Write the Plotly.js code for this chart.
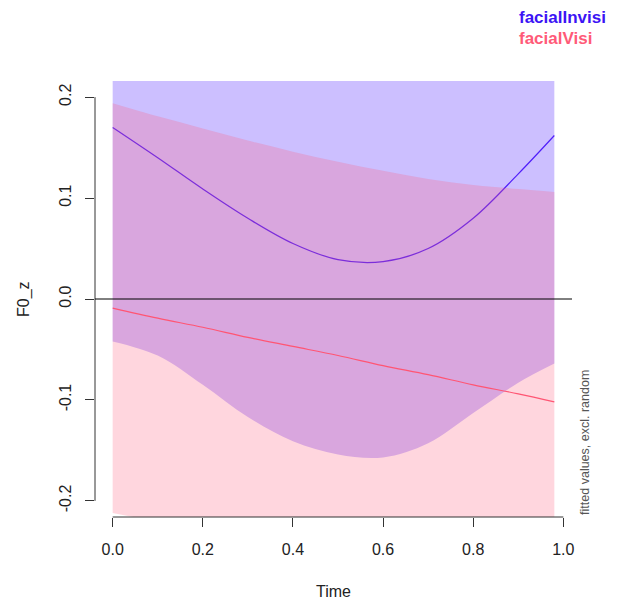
<!DOCTYPE html>
<html>
<head>
<meta charset="utf-8">
<script src="https://cdn.plot.ly/plotly-3.0.1.min.js"></script>
<style>html,body{margin:0;padding:0;background:#fff;}#chart{width:618px;height:601px;}</style>
</head>
<body>
<div id="chart"></div>
<script>
// Time grid
var time = [0, 0.1, 0.2, 0.3, 0.4, 0.5, 0.6, 0.7, 0.8, 0.9, 0.98];
// facialInvisi: fit and CI
var invisiFit   = [0.170, 0.140, 0.109, 0.080, 0.055, 0.039, 0.037, 0.050, 0.080, 0.124, 0.162];
var invisiLower = [-0.042, -0.056, -0.085, -0.117, -0.141, -0.154, -0.157, -0.143, -0.113, -0.083, -0.064];
var invisiUpper = [0.382, 0.336, 0.303, 0.277, 0.251, 0.232, 0.231, 0.243, 0.273, 0.331, 0.388];
// facialVisi: fit and CI
var visiFit   = [-0.009, -0.019, -0.028, -0.038, -0.047, -0.056, -0.066, -0.075, -0.085, -0.094, -0.102];
var visiUpper = [0.194, 0.181, 0.169, 0.157, 0.146, 0.136, 0.127, 0.119, 0.113, 0.109, 0.106];
var visiLower = [-0.212, -0.220, -0.224, -0.233, -0.240, -0.247, -0.257, -0.268, -0.282, -0.296, -0.310];
// ticks
var xTicks = [0, 0.2, 0.4, 0.6, 0.8, 1.0];
var xTickText = ["0.0", "0.2", "0.4", "0.6", "0.8", "1.0"];
var yTicks = [-0.2, -0.1, 0, 0.1, 0.2];
var yTickText = ["-0.2", "-0.1", "0.0", "0.1", "0.2"];
var groups = ["facialInvisi", "facialVisi"];

var sp = {width: 0, shape: 'spline', smoothing: 1};
var traces = [
  {x: time, y: invisiLower, type: 'scatter', mode: 'lines', line: sp, hoverinfo: 'skip'},
  {x: time, y: invisiUpper, type: 'scatter', mode: 'lines', fill: 'tonexty',
   fillcolor: 'rgba(51,0,255,0.25)', line: sp, hoverinfo: 'skip'},
  {x: time, y: invisiFit, type: 'scatter', mode: 'lines',
   line: {color: 'rgb(80,30,250)', width: 1.2, shape: 'spline', smoothing: 1}},
  {x: time, y: visiLower, type: 'scatter', mode: 'lines', line: sp, hoverinfo: 'skip'},
  {x: time, y: visiUpper, type: 'scatter', mode: 'lines', fill: 'tonexty',
   fillcolor: 'rgba(255,91,123,0.25)', line: sp, hoverinfo: 'skip'},
  {x: time, y: visiFit, type: 'scatter', mode: 'lines',
   line: {color: 'rgb(255,85,115)', width: 1.2, shape: 'spline', smoothing: 1}}
];

var font = {family: 'Liberation Sans, Arial, sans-serif', size: 16, color: '#222'};

var layout = {
  width: 618, height: 601,
  margin: {l: 95, r: 46, t: 81, b: 84, pad: 0},
  paper_bgcolor: '#fff', plot_bgcolor: '#fff',
  showlegend: false,
  font: font,
  xaxis: {range: [-0.0392, 1.0192], showgrid: false, zeroline: false, showline: false,
    tickmode: 'array', tickvals: xTicks, ticktext: xTickText,
    ticks: 'outside', ticklen: 9, tickwidth: 1, tickcolor: '#333',
    ticklabelstandoff: 9, tickfont: font},
  yaxis: {range: [-0.216, 0.216], showgrid: false, zeroline: false, showline: false,
    tickmode: 'array', tickvals: yTicks, ticktext: yTickText, tickangle: -90,
    ticks: 'outside', ticklen: 9, tickwidth: 1, tickcolor: '#333',
    ticklabelstandoff: 8, tickfont: font},
  shapes: [
    {type: 'line', xref: 'paper', yref: 'y', x0: 0, x1: 0, y0: -0.2, y1: 0.2, line: {color: '#333', width: 1}},
    {type: 'line', xref: 'x', yref: 'paper', x0: 0, x1: 1, y0: 0, y1: 0, line: {color: '#333', width: 1}},
    {type: 'line', xref: 'paper', yref: 'y', x0: 0, x1: 1, y0: 0, y1: 0, line: {color: '#000', width: 1}, layer: 'above'}
  ],
  annotations: [
    {text: 'Time', xref: 'paper', yref: 'paper', x: 0.5, y: 0, yshift: -74, showarrow: false, font: font, xanchor: 'center', yanchor: 'middle'},
    {text: 'F0_z', xref: 'paper', yref: 'paper', x: 0, xshift: -71, y: 0.5, showarrow: false, font: font, textangle: -90, xanchor: 'center', yanchor: 'middle'},
    {text: 'fitted values, excl. random', xref: 'paper', yref: 'paper', x: 1, xshift: 13, y: 0.17, showarrow: false,
     font: {family: 'Liberation Sans, Arial, sans-serif', size: 12.5, color: '#555'}, textangle: -90, xanchor: 'center', yanchor: 'middle'},
    {text: '<b>' + groups[0] + '</b>', xref: 'paper', yref: 'paper', x: 1, xshift: -55, y: 1, yshift: 64, showarrow: false,
     font: {family: 'Liberation Sans, Arial, sans-serif', size: 17, color: 'rgb(60,20,245)'}, xanchor: 'left', yanchor: 'middle'},
    {text: '<b>' + groups[1] + '</b>', xref: 'paper', yref: 'paper', x: 1, xshift: -55, y: 1, yshift: 43, showarrow: false,
     font: {family: 'Liberation Sans, Arial, sans-serif', size: 17, color: 'rgb(255,90,120)'}, xanchor: 'left', yanchor: 'middle'}
  ]
};

Plotly.newPlot('chart', traces, layout, {displayModeBar: false, staticPlot: true});
</script>
</body>
</html>
